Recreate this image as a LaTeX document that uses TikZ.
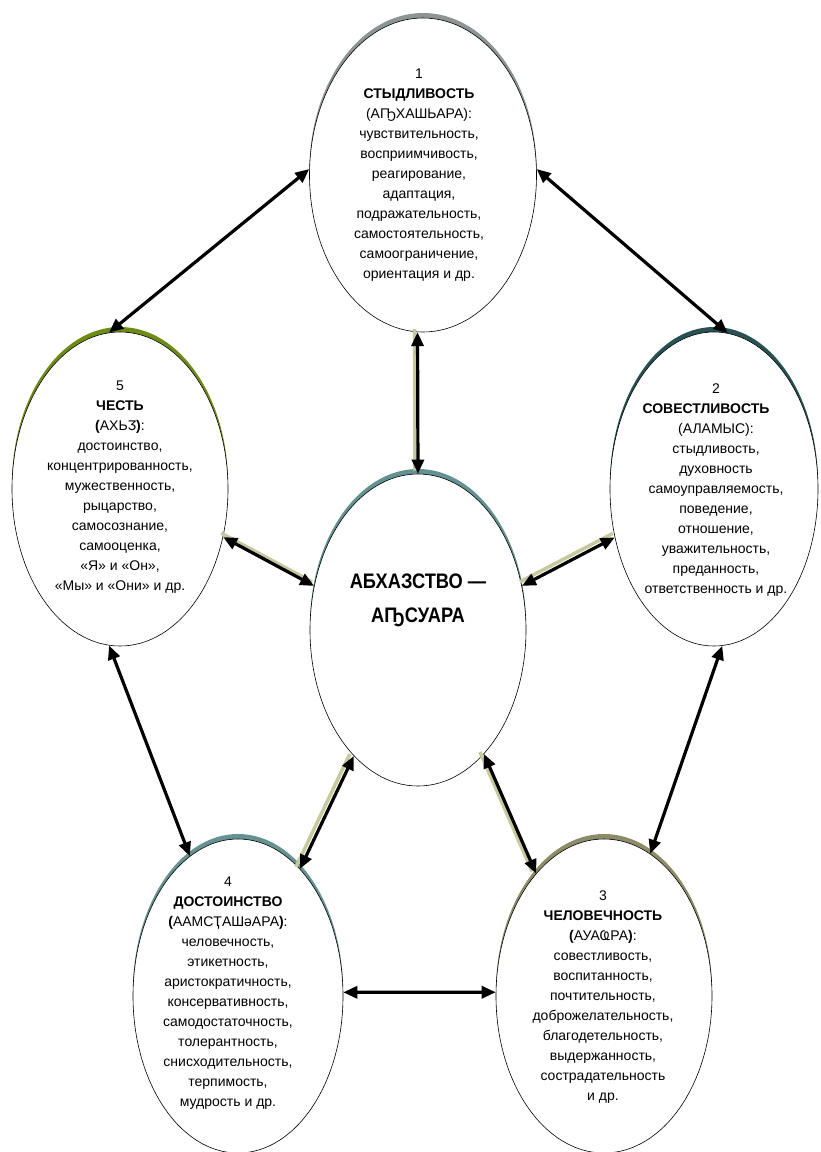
\documentclass[tikz,border=0pt]{standalone}
\usepackage{fontspec}
\setmainfont{Liberation Sans}
\newfontfamily\dv{Liberation Sans}
\usetikzlibrary{shapes.geometric,arrows.meta}
\definecolor{shA}{RGB}{140,148,148}
\definecolor{shB}{RGB}{110,140,20}
\definecolor{shC}{RGB}{40,82,82}
\definecolor{shD}{RGB}{100,145,145}
\definecolor{shE}{RGB}{102,146,146}
\definecolor{shF}{RGB}{140,140,105}
\definecolor{khaki}{RGB}{200,200,158}
\tikzset{
  ell/.style={ellipse, draw=black, line width=0.6pt, fill=white, inner sep=0pt},
  txt/.style={align=center, font=\fontsize{14}{20}\selectfont, inner sep=0pt},
  big/.style={align=center, font=\fontsize{21}{34}\selectfont\bfseries, inner sep=0pt},
  arr/.style={line width=3.2pt, {Triangle[length=14pt,width=12pt]}-{Triangle[length=14pt,width=12pt]}},
  kh/.style={khaki, line width=3.5pt}
}
\begin{document}
\begin{tikzpicture}[x=1pt,y=-1pt]
\useasboundingbox (0,0) rectangle (820,1152);
% 3D top rims
\fill[shA] (423,170) ellipse (113.5pt and 157pt);
\fill[shB] (120,484) ellipse (108pt and 157pt);
\fill[shC] (714,484) ellipse (104pt and 157pt);
\fill[shD] (418,625) ellipse (108pt and 156pt);
\fill[shE] (238,991) ellipse (105pt and 157pt);
\fill[shF] (604,991) ellipse (108pt and 157pt);
% ellipses
\node[ell, minimum width=227pt, minimum height=314pt] (e1) at (423,175) {};
\node[ell, minimum width=216pt, minimum height=314pt] (e5) at (120,489) {};
\node[ell, minimum width=208pt, minimum height=314pt] (e2) at (714,489) {};
\node[ell, minimum width=216pt, minimum height=312pt] (ec) at (418,630) {};
\node[ell, minimum width=210pt, minimum height=314pt] (e4) at (238,996) {};
\node[ell, minimum width=216pt, minimum height=314pt] (e3) at (604,996) {};
% texts
\node[txt] (t1) at (419,175) {1\\\textbf{СТЫДЛИВОСТЬ}\\(А{\dv Ҧ}ХАШЬАРА):\\чувствительность,\\восприимчивость,\\реагирование,\\адаптация,\\подражательность,\\самостоятельность,\\самоограничение,\\ориентация и др.};
\node[txt] (t2) at (716,490) {2\\\hspace*{-20pt}\textbf{СОВЕСТЛИВОСТЬ}\\(АЛАМЫС):\\стыдливость,\\духовность\\самоуправляемость,\\поведение,\\отношение,\\уважительность,\\преданность,\\ответственность и др.};
\node[txt] (t3) at (603,997) {3\\\textbf{ЧЕЛОВЕЧНОСТЬ}\\\textbf{(}АУА{\dv Ҩ}РА\textbf{)}:\\совестливость,\\воспитанность,\\почтительность,\\доброжелательность,\\благодетельность,\\выдержанность,\\сострадательность\\и др.};
\node[txt] (t4) at (228,993) {4\\\textbf{ДОСТОИНСТВО}\\\textbf{(}ААМС{\dv Ҭ}АШ{\dv ә}АРА\textbf{)}:\\человечность,\\этикетность,\\аристократичность,\\консервативность,\\самодостаточность,\\толерантность,\\снисходительность,\\терпимость,\\мудрость и др.};
\node[txt] (t5) at (120,487) {5\\\textbf{ЧЕСТЬ}\\\textbf{(}АХЬ{\dv Ӡ}\textbf{)}:\\достоинство,\\концентрированность,\\мужественность,\\рыцарство,\\самосознание,\\самооценка,\\«Я» и «Он»,\\«Мы» и «Они» и др.};
\node[big] (tc) at (418,600) {\scalebox{0.87}[1]{АБХАЗСТВО —}\\\scalebox{0.87}[1]{А{\dv Ҧ}СУАРА}};
% khaki shadows of the central connectors
\draw[kh] ([shift={(-3pt,3pt)}]e1.268) -- ([shift={(-3pt,3pt)}]ec.90);
\draw[kh] ([shift={(-2pt,4pt)}]e5.335) -- ([shift={(-2pt,4pt)}]ec.157);
\draw[kh] ([shift={(-2pt,4pt)}]ec.23) -- ([shift={(-2pt,4pt)}]e2.206);
\draw[kh] ([shift={(-4pt,2pt)}]ec.243) -- ([shift={(-4pt,2pt)}]e4.64);
\draw[kh] ([shift={(-4pt,2pt)}]ec.298) -- ([shift={(-4pt,2pt)}]e3.119);
% connectors
\draw[arr] (e1.177) -- (e5.94);
\draw[arr] (e1.3) -- (e2.85);
\draw[arr] (e1.268) -- (ec.90);
\draw[arr] (e5.335) -- (ec.157);
\draw[arr] (ec.23) -- (e2.206);
\draw[arr] (ec.243) -- (e4.64);
\draw[arr] (ec.298) -- (e3.119);
\draw[arr] (e5.266) -- (e4.109);
\draw[arr] (e2.273) -- (e3.72);
\draw[arr] (e4.2) -- (e3.178);
\end{tikzpicture}
\end{document}
